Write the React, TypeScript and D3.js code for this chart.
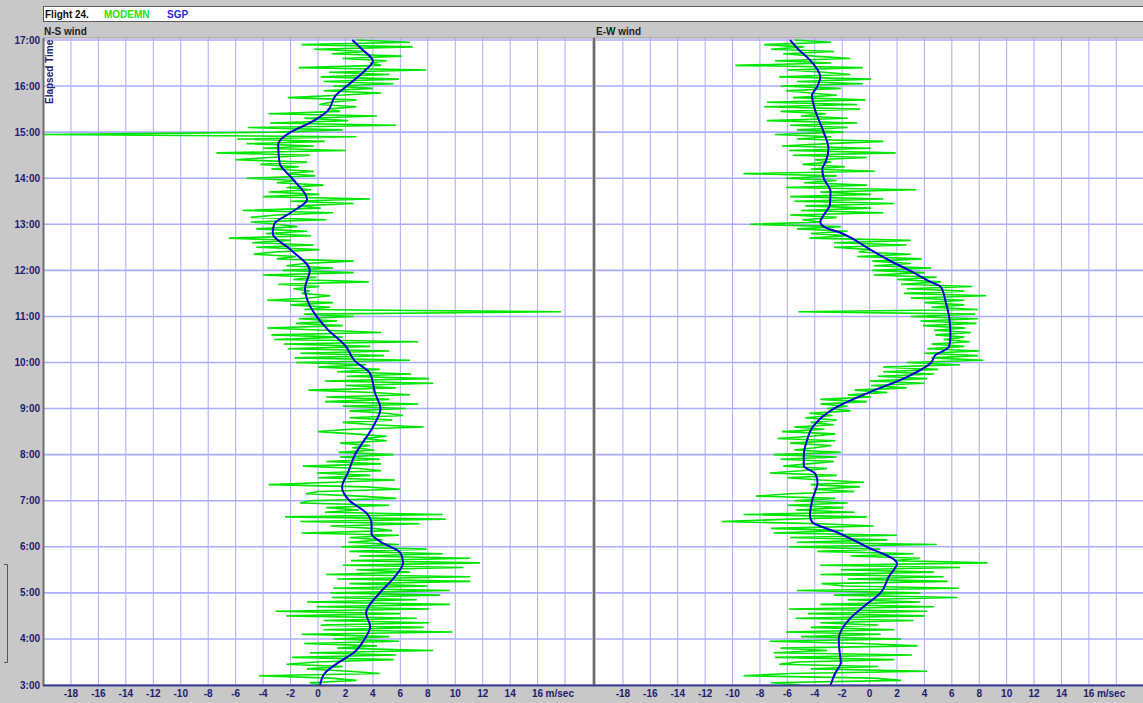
import React from 'react';
import * as d3 from 'd3';

// Canvas size
const W = 1143;
const H = 703;

// MODEMN samples: one every 3 minutes, from 17:00 back to 3:00 (m/sec)
const MODEMN_START = 17;
const MODEMN_STEP = 0.05;

const nsModemn = [
  2.8, 6.7, -1.2, 6.9, -0.3, 3.5, 1.0, 6.1, 1.8, 5.0,
  3.8, 4.6, -1.4, 7.9, 0.8, 5.2, 0.2, 5.9, 0.4, 5.5,
  1.1, 4.0, 0.4, 4.6, 1.5, -2.2, 2.8, 0.9, 0.1, 2.8,
  0.7, 1.6, -3.6, 4.3, -1.0, 2.2, -3.5, 5.7, -5.1, 1.8,
  -3.0, -20, 2.8, -5.9, 0.5, -5.2, -0.3, -4.0, 2.0, -7.4,
  -0.6, -3.5, -6.0, -0.8, -4.2, -1.4, -3.4, -0.3, -2.3, -0.2,
  -5.2, -1.6, -3.0, 0.4, -2.3, -0.5, -3.6, 0.1, -4.0, 3.8,
  -2.0, 2.6, -1.5, 0.2, -5.5, 1.1, -3.0, -4.9, 0.6, -4.9,
  -3.0, -1.5, -4.5, -0.8, -3.8, -0.5, -6.5, -2.0, -4.8, -0.3,
  -4.5, 0.1, -3.2, -4.7, -1.6, -3.0, 2.6, -1.0, -2.3, 1.1,
  -2.6, 2.6, -4.0, -0.1, -1.8, 3.7, -2.9, 0.1, -1.8, -0.6,
  -1.2, 0.9, -0.6, -3.7, 1.1, -2.0, 0.9, -1.0, 17.7, -1.0,
  2.6, -1.4, 1.4, -1.6, 1.8, -3.7, 0.5, 4.6, -3.4, 1.8,
  -3.2, 7.3, -2.5, 3.8, -2.2, 5.2, -1.3, 4.8, -1.7, 6.7,
  -1.6, 3.5, 0.0, 4.5, 1.4, 6.8, 2.1, 8.1, 0.5, 8.4,
  2.0, 5.7, -0.7, 4.0, 6.7, 0.6, 5.2, 0.5, 7.3, 1.8,
  6.4, 2.3, 5.0, 6.2, 2.3, 5.4, 1.8, 4.0, 7.7, 2.3,
  0.0, 2.6, 5.0, 3.3, 5.0, 1.6, 3.8, 2.5, 4.1, 1.5,
  5.5, 1.6, 4.5, 0.6, 4.6, -1.1, 3.0, 4.6, -0.1, 3.8,
  0.0, 5.6, 1.0, -3.6, 3.5, 6.0, 0.0, -0.9, 3.0, 5.7,
  -0.6, -1.3, 5.2, 0.6, 3.0, 0.5, 9.1, -2.4, 9.3, -1.3,
  7.4, 0.9, 4.0, 5.4, -1.2, 5.9, 2.3, 4.7, 2.2, 5.9,
  1.7, 7.9, 2.3, 9.1, 3.0, 11.1, 2.4, 11.8, 1.8, 10.6,
  2.8, 6.7, 0.6, 11.1, 1.4, 11.1, 2.3, 8.0, 1.1, 9.6,
  0.9, 8.9, 1.0, 7.2, -0.8, 9.6, -0.1, 8.1, -3.1, 6.0,
  -2.3, 7.2, 0.4, 8.1, 0.2, 7.7, 0.4, 9.8, -1.2, 5.2,
  1.1, 5.9, -1.0, 4.3, 1.4, 8.4, -0.6, 5.7, -1.9, 5.5,
  -0.1, -2.3, 1.8, -0.8, 2.3, 4.5, -4.3, 0.9, 2.8, -0.6, 0.3,
];

const ewModemn = [
  -5.5, -2.8, -7.7, -4.8, -7.2, -2.6, -6.3, -4.0, -1.4, -6.9,
  -2.8, -9.8, -0.5, -6.0, -3.3, -1.4, -6.6, 0.1, -5.3, -0.5,
  -6.5, -2.1, -6.1, -4.3, -2.4, -5.6, -0.3, -7.5, -0.9, -7.7,
  -0.7, -6.5, -3.2, -5.0, -1.6, -7.5, -0.9, -5.8, -1.6, -5.3,
  -1.9, -6.9, -2.8, -5.3, 1.0, -3.0, -6.4, 0.1, -5.9, 1.9,
  -5.6, -0.2, -4.0, -2.8, -4.9, -1.8, -4.3, 0.4, -9.2, -2.4,
  -6.1, -2.4, -4.8, -0.2, -6.1, 3.4, -3.6, 0.1, -5.8, 1.0,
  -5.5, 1.8, -4.7, 0.1, -5.0, 1.0, -5.8, -2.4, -4.9, -3.6,
  -8.7, -2.1, -5.3, -1.6, -4.3, -1.6, -4.4, 3.0, -2.6, 2.7,
  -2.6, 0.1, -0.8, 3.0, -0.9, 3.8, 0.2, 3.0, 0.3, 4.5,
  0.2, 4.0, 0.3, 4.9, 2.0, 5.2, 2.3, 7.5, 2.7, 6.9,
  2.5, 8.5, 3.0, 6.9, 4.0, 6.9, 4.5, 7.9, -5.2, 7.7,
  3.0, 7.9, 3.7, 7.8, 3.9, 7.0, 4.7, 7.4, 4.8, 6.9,
  5.4, 7.3, 4.5, 6.9, 4.2, 8.0, 4.0, 7.9, 4.5, 8.3,
  2.7, 6.6, 1.0, 5.0, 1.0, 4.7, 0.6, 4.2, 0.0, 4.0,
  0.1, 2.7, -1.1, 1.3, -1.6, 0.1, -3.6, -0.2, -3.6, -1.6,
  -3.1, -1.4, -4.4, -2.7, -4.7, -2.4, -4.3, -2.6, -5.5, -3.3,
  -6.4, -2.5, -4.3, -6.7, -2.5, -5.8, -2.8, -4.0, -5.5, -2.1,
  -7.0, -2.4, -6.5, -2.6, -4.5, -6.3, -3.1, -5.0, -7.3, -2.4,
  -6.0, -3.6, -0.4, -4.3, -0.7, -4.1, -1.1, -5.8, -8.3, -2.5,
  -5.5, -1.6, -6.0, -1.9, -5.4, -1.1, -9.2, -0.2, -5.8, -10.8,
  -3.6, 0.3, -7.2, -1.9, -7.0, 2.0, -5.8, 1.3, -5.3, 4.9,
  -5.9, 0.8, -3.8, 3.2, -1.4, 3.7, 1.8, 8.6, -3.6, 6.6,
  -2.1, 4.7, -3.6, 5.4, -1.6, 5.7, -3.5, -1.9, 6.5, -5.3,
  3.7, -2.6, 6.4, -1.6, 3.7, -3.6, 4.7, -5.9, 4.2, -4.5,
  4.0, -5.4, 3.2, -3.6, 0.6, -4.3, 1.8, -6.1, 0.8, -5.0,
  2.3, -7.3, -0.7, 3.5, -6.5, -3.1, -7.0, 3.1, -6.9, 1.8,
  -5.3, -6.6, 0.6, -4.3, 4.2, -5.8, -9.2, 0.3, 2.3, -7.2, -5.0,
];

// SGP profiles: elapsed time (h) and wind (m/sec)
const nsSgpTime = [
  3.0, 3.26, 3.49, 3.7, 4.0, 4.27, 4.56, 5.0, 5.35, 5.66, 5.87, 6.12, 6.29, 6.5,
  6.74, 7.0, 7.29, 7.62, 8.0, 8.6, 9.0, 9.34, 9.76, 10.03, 10.36, 10.72, 11.0,
  11.3, 11.6, 12.0, 12.45, 12.8, 13.0, 13.25, 13.54, 14.0, 14.33, 14.73, 15.0,
  15.2, 15.46, 15.8, 16.0, 16.36, 16.54, 16.8, 17.0,
];
const nsSgp = [
  0.15, 0.5, 1.5, 2.6, 3.4, 3.8, 3.5, 4.5, 5.6, 6.2, 6.0, 4.5, 3.9, 3.9,
  3.5, 2.3, 1.75, 2.2, 2.7, 4.0, 4.55, 4.15, 3.8, 2.7, 2.0, 0.7, -0.1,
  -0.7, -0.95, -0.6, -2.0, -3.3, -3.2, -2.0, -0.8, -1.9, -2.8, -2.9, -2.0,
  -0.6, 0.7, 1.3, 2.1, 3.5, 4.0, 3.2, 2.5,
];

const ewSgpTime = [
  3.0, 3.26, 3.49, 3.75, 4.0, 4.42, 4.71, 5.0, 5.35, 5.64, 6.0, 6.31, 6.54,
  6.68, 7.0, 7.4, 7.58, 7.76, 8.0, 8.28, 8.64, 9.0, 9.33, 9.69, 10.0, 10.16,
  10.34, 10.59, 11.0, 11.32, 11.64, 11.75, 12.0, 12.16, 12.45, 12.8, 12.95,
  13.05, 13.2, 13.42, 13.71, 14.0, 14.2, 14.36, 14.65, 15.0, 15.5, 15.8, 16.0,
  16.2, 16.4, 16.58, 16.8, 17.0,
];
const ewSgp = [
  -2.85, -2.5, -2.1, -2.2, -2.25, -1.5, -0.4, 0.8, 1.4, 2.0, -0.2, -2.35, -4.2,
  -4.35, -4.2, -3.8, -3.95, -4.8, -4.8, -4.6, -4.05, -2.6, -0.2, 2.75, 4.5, 4.8,
  5.8, 5.9, 5.8, 5.55, 5.2, 4.45, 2.9, 1.8, 0.05, -2.0, -3.35, -3.6,
  -3.35, -2.9, -2.85, -3.35, -3.45, -3.2, -3.0, -3.35, -4.0, -4.2, -3.8,
  -3.6, -3.9, -4.4, -5.2, -5.8,
];

// Axis ticks
const hourTicks = d3.range(3, 18);
const windTicks = d3.range(-18, 17, 2);
const windGrid = d3.range(-18, 19, 2);

const PLOT_TOP = 38;
const PLOT_BOTTOM = 685;

const yScale = d3.scaleLinear().domain([3, 17]).range([685, 40]);

const panels = [
  { key: 'ns', title: 'N-S wind', x0: 43.5, x1: 592.5, modemn: nsModemn, sgpT: nsSgpTime, sgp: nsSgp },
  { key: 'ew', title: 'E-W wind', x0: 595.5, x1: 1143.7, modemn: ewModemn, sgpT: ewSgpTime, sgp: ewSgp },
];

const NAVY = '#20206e';
const FONT = '"Liberation Sans", Arial, sans-serif';

export default function App() {
  return (
    <div style={{ position: 'absolute', left: 0, top: 0 }}>
      <svg width={W} height={H} style={{ display: 'block', fontFamily: FONT }}>
        <rect x={0} y={0} width={W} height={H} fill="#c8c8c8" />

        {/* header strip */}
        <rect x={43.5} y={6.5} width={1100} height={15} fill="#ffffff" stroke="#5a5a5a" strokeWidth={1} />
        <text x={45} y={18} fontSize={10} fontWeight="bold" fill="#111">Flight 24.</text>
        <text x={104} y={18} fontSize={10} fontWeight="bold" fill="#22e022">MODEMN</text>
        <text x={167} y={18} fontSize={10} fontWeight="bold" fill="#2828e8">SGP</text>

        {panels.map((p) => {
          const x = d3.scaleLinear().domain([-20, 20]).range([p.x0, p.x1]);
          const greenLine = d3
            .line<number>()
            .x((v) => x(v))
            .y((_, i) => yScale(MODEMN_START - i * MODEMN_STEP));
          const blueLine = d3
            .line<number>()
            .x((v) => x(v))
            .y((_, i) => yScale(p.sgpT[i]))
            .curve(d3.curveMonotoneY);
          return (
            <g key={p.key}>
              <clipPath id={`clip-${p.key}`}>
                <rect x={p.x0} y={PLOT_TOP} width={p.x1 - p.x0} height={PLOT_BOTTOM - PLOT_TOP} />
              </clipPath>
              <rect x={p.x0} y={PLOT_TOP} width={p.x1 - p.x0} height={PLOT_BOTTOM - PLOT_TOP} fill="#ffffff" />
              <text x={p.x0 + 0.5} y={35} fontSize={10} fontWeight="bold" fill="#222">{p.title}</text>
              <g clipPath={`url(#clip-${p.key})`}>
                {windGrid.map((v) => (
                  <line key={`v${v}`} x1={x(v)} x2={x(v)} y1={PLOT_TOP} y2={PLOT_BOTTOM} stroke="#a8a8ff" strokeWidth={1} />
                ))}
                {hourTicks.map((h) => (
                  <line key={`h${h}`} x1={p.x0} x2={p.x1} y1={yScale(h)} y2={yScale(h)} stroke="#acacff" strokeWidth={1.6} />
                ))}
                <path d={greenLine(p.modemn) ?? ''} fill="none" stroke="#00e600" strokeWidth={1.6} strokeLinejoin="bevel" />
                <path d={blueLine(p.sgp) ?? ''} fill="none" stroke="#0000dc" strokeWidth={2} />
              </g>
              {windTicks.map((v) =>
                v === 16 ? (
                  <g key={`t${v}`}>
                    <text x={x(v)} y={697} fontSize={10} fontWeight="bold" fill={NAVY} textAnchor="middle">16</text>
                    <text x={x(v) + 8} y={697} fontSize={10} fontWeight="bold" fill={NAVY}>m/sec</text>
                  </g>
                ) : (
                  <text key={`t${v}`} x={x(v)} y={697} fontSize={10} fontWeight="bold" fill={NAVY} textAnchor="middle">
                    {v}
                  </text>
                )
              )}
            </g>
          );
        })}

        {/* frame lines */}
        <line x1={43} x2={1143} y1={PLOT_TOP} y2={PLOT_TOP} stroke="#9a9a9a" strokeWidth={1} />
        <line x1={43.5} x2={43.5} y1={PLOT_TOP} y2={686} stroke="#6e6e6e" strokeWidth={2} />
        <line x1={594} x2={594} y1={PLOT_TOP} y2={686} stroke="#6a6a6a" strokeWidth={2.5} />
        <line x1={43} x2={1143} y1={685.5} y2={685.5} stroke="#3c3c8c" strokeWidth={2} />

        {/* time axis labels */}
        {hourTicks.map((h) => (
          <text key={`y${h}`} x={40} y={yScale(h)} dy="0.35em" fontSize={10} fontWeight="bold" fill={NAVY} textAnchor="end">
            {`${h}:00`}
          </text>
        ))}
        <text transform="translate(53,104) rotate(-90)" fontSize={10} fontWeight="bold" fill={NAVY}>
          Elapsed Time
        </text>

        {/* side bracket */}
        <path d="M4,564.5 H7.5 V662.5 H4" fill="none" stroke="#555" strokeWidth={1} />
      </svg>
    </div>
  );
}
